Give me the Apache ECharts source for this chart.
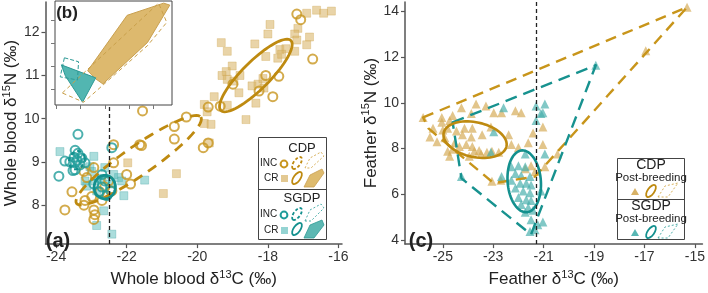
<!DOCTYPE html>
<html>
<head>
<meta charset="utf-8">
<script src="https://cdn.jsdelivr.net/npm/echarts@6/dist/echarts.min.js"></script>
<style>
html,body{margin:0;padding:0;background:#fff;}
#main{width:708px;height:293px;}
</style>
</head>
<body>
<div id="main"></div>
<script>
// ---- data ----
// (a) whole blood
var xTicksA = [-24, -22, -20, -18, -16];
var yTicksA = [8, 9, 10, 11, 12];
var cdpCR = [[-16.90,12.44],[-16.62,12.51],[-16.42,12.44],[-16.20,12.49],[-17.94,12.18],[-17.15,12.09],[-17.24,11.96],[-18.0,11.96],
  [-17.18,11.82],[-16.82,11.89],[-16.90,11.71],[-18.37,11.73],[-17.24,11.56],[-17.66,11.60],[-17.49,11.62],[-18.06,11.44],
  [-17.72,11.40],[-17.61,11.49],[-19.32,11.76],[-19.15,11.56],[-19.01,11.22],[-19.18,11.09],[-19.30,11.0],[-18.79,11.0],
  [-19.15,10.91],[-18.96,10.87],[-18.45,10.76],[-18.28,10.80],[-18.11,10.71],[-18.14,10.93],[-18.82,10.60],[-18.34,10.36],
  [-19.15,10.31],[-18.62,9.98],[-19.52,10.51],[-19.80,10.33],[-19.72,10.16],[-19.80,9.89],[-19.61,9.87],[-19.66,9.44],
  [-20.59,8.73],[-21.97,8.98],[-20.96,8.27]];
var cdpINC = [[-17.18,12.42],[-17.07,12.29],[-16.73,11.38],[-17.69,10.98],[-18.06,11.0],[-18.25,10.64],[-17.86,10.51],
  [-18.99,10.80],[-19.35,10.29],[-19.69,10.27],[-19.69,9.44],[-19.83,9.33],[-21.55,10.18],[-20.65,9.82],[-20.65,9.53],
  [-20.31,10.04],[-21.58,9.38],[-22.37,8.98],[-22.0,8.71],[-22.37,9.40],[-21.63,9.40],[-21.89,8.49],[-23.55,8.31],
  [-23.75,7.89],[-22.93,7.89],[-22.93,7.67],[-23.18,8.11],[-22.70,8.11],[-22.62,8.42],[-22.76,8.31],[-22.51,8.56],
  [-23.13,8.64],[-23.21,8.78],[-22.93,8.87],[-22.42,8.33],[-22.99,8.20],[-23.21,8.0],[-22.90,7.78]];
var sgdpINC = [[-23.38,9.64],[-22.42,9.33],[-23.46,9.27],[-23.38,9.2],[-23.27,9.09],[-23.49,9.11],[-23.75,9.02],[-23.61,9.0],
  [-23.46,8.98],[-23.32,8.93],[-23.18,8.98],[-23.46,8.82],[-23.52,8.8],[-23.92,8.67],[-23.41,9.04],[-22.70,8.42],
  [-22.62,8.56],[-22.79,8.31],[-22.56,8.22],[-22.45,8.33],[-22.93,8.49],[-22.70,8.71]];
var sgdpCR = [[-23.89,9.24],[-22.93,9.13],[-23.04,8.89],[-22.62,8.87],[-23.18,8.56],[-23.13,8.44],[-22.85,8.33],[-22.23,8.64],
  [-22.14,8.56],[-22.08,8.22],[-22.65,7.87],[-22.85,7.53],[-22.42,7.33],[-22.99,8.78],[-22.90,8.56],[-21.49,8.58],
  [-22.70,8.62],[-22.48,8.49],[-22.37,8.71]];
// ellipses: centre x, centre y, half axis a (dx,dy), half axis b (dx,dy)
var ellCdpCR = [-18.34, 11.0, 0.99, 0.81, 0.28, -0.22];
var ellCdpINC = [-21.66, 9.04, 1.76, 1.0, 0.245, -0.27];
var ellSgdpCR = [-22.62, 8.42, 0.30, 0.03, -0.03, 0.27];
var ellSgdpINC = [-23.41, 9.04, 0.22, 0.06, -0.03, 0.20];
var refA = -22.5;

// (b) inset hulls
var insetX = [-24, -22, -20, -18, -16];
var insetY = [7.9, 9.3, 10.7, 12.1];
var hullCdpCR = [[-21.42,9.03],[-18.18,12.40],[-15.18,13.14],[-14.68,13.02],[-16.51,10.75],[-20.17,8.23],[-20.76,8.54]];
var hullCdpINC = [[-23.50,7.68],[-15.60,13.14],[-14.93,11.97],[-16.51,10.56],[-21.75,7.12]];
var hullSgdpCR = [[-23.58,9.39],[-20.76,8.60],[-21.84,7.12],[-23.25,8.72]];
var hullSgdpINC = [[-23.33,9.82],[-22.17,9.58],[-22.25,8.47],[-23.67,8.66]];
var refB = -22;

// (c) feathers
var xTicksC = [-25, -23, -21, -19, -17, -15];
var yTicksC = [4, 6, 8, 10, 12, 14];
var cdpPB = [[-25.78,9.36],[-25.04,9.36],[-24.73,9.23],[-24.26,9.78],[-23.68,9.95],[-23.29,9.86],[-23.87,9.53],[-22.98,9.57],
  [-22.67,9.57],[-22.12,9.65],[-21.89,9.57],[-25.39,8.89],[-25.51,8.51],[-25.0,8.81],[-24.92,8.47],[-24.14,8.89],
  [-23.83,8.89],[-23.44,8.60],[-24.22,8.60],[-24.61,9.44],[-25.04,9.15],[-24.81,8.89],[-24.46,8.77],[-23.09,8.94],
  [-23.87,8.51],[-24.53,8.26],[-24.07,8.18],[-23.83,8.09],[-24.34,8.09],[-23.75,7.88],[-23.48,7.76],[-23.25,7.84],
  [-24.81,7.88],[-24.73,7.67],[-23.95,7.67],[-23.05,6.57],[-22.70,6.62],[-25.23,8.30],[-24.61,7.97],[-23.56,7.92],
  [-23.05,7.88],[-22.78,7.84],[-21.73,7.12],[-21.50,7.25],[-21.34,7.0],[-21.61,8.26],[-22.0,8.05],[-22.28,8.18],
  [-21.03,8.18],[-20.95,7.21],[-21.03,8.94],[-20.45,7.76],[-16.95,12.27],[-15.31,14.17],[-21.42,8.68],[-22.39,8.60]];
var sgdpPB = [[-22.59,9.78],[-22.98,8.73],[-21.30,9.86],[-20.95,9.95],[-21.11,9.53],[-21.30,9.23],[-21.03,9.57],[-18.93,11.64],
  [-23.09,7.84],[-22.28,7.21],[-22.0,7.25],[-21.73,7.21],[-22.12,6.91],[-21.89,6.83],[-21.54,6.78],[-22.28,6.62],
  [-21.93,6.49],[-21.69,6.49],[-21.50,6.41],[-22.12,6.28],[-21.81,6.15],[-21.54,6.07],[-22.0,5.86],[-21.69,5.77],
  [-21.50,5.73],[-21.89,5.56],[-21.61,5.43],[-21.42,5.31],[-21.73,5.22],[-21.50,4.89],[-21.54,4.38],[-24.26,6.78],
  [-22.67,6.78],[-21.34,4.46],[-21.23,4.68],[-21.11,6.15],[-21.03,4.80],[-20.95,7.76],[-21.73,7.76]];
var hullCdpPB = [[-25.78,9.36],[-15.31,14.17],[-21.34,6.78],[-22.98,6.49],[-25.58,8.89]];
var hullSgdpPB = [[-24.61,9.15],[-18.93,11.64],[-21.50,4.25],[-24.26,6.70]];
var ellCdpPB = [-23.72, 8.39, 1.245, -0.30, 0.15, 0.74];
var ellSgdpPB = [-21.77, 6.57, -0.08, 1.35, 0.66, 0.02];
var refC = -21.3;

// ---- styles ----
var FONT = 'Liberation Sans, Arial, sans-serif';
var goldLine = '#BE8A10';
var goldCircle = '#C8961F';
var goldFill = 'rgba(216,180,104,0.72)';
var tealLine = '#13908E';
var tealCircle = '#1F9C9A';
var tealFill = 'rgba(84,186,184,0.62)';

function scat(data, xi, symbol, size, itemStyle, z) {
	return {
		type : 'scatter', xAxisIndex : xi, yAxisIndex : xi, data : data,
		symbol : symbol, symbolSize : size, itemStyle : itemStyle, z : z,
		silent : true, animation : false
	};
}
function ellipse(e, xi, color, width, dash, z) {
	return {
		type : 'custom', xAxisIndex : xi, yAxisIndex : xi, data : [[e[0], e[1]]],
		z : z, silent : true, animation : false,
		renderItem : function(params, api) {
			var pts = [];
			for (var i = 0; i < 72; i++) {
				var t = i / 72 * Math.PI * 2;
				pts.push(api.coord([e[0] + e[2] * Math.cos(t) + e[4] * Math.sin(t),
						e[1] + e[3] * Math.cos(t) + e[5] * Math.sin(t)]));
			}
			return {
				type : 'polygon', shape : { points : pts },
				style : { fill : 'none', stroke : color, lineWidth : width, lineDash : dash }
			};
		}
	};
}
function hull(h, xi, fill, stroke, width, dash, z) {
	return {
		type : 'custom', xAxisIndex : xi, yAxisIndex : xi, data : h,
		z : z, silent : true, animation : false,
		renderItem : function(params, api) {
			if (params.dataIndex != 0) return;
			var pts = h.map(function(p) { return api.coord(p); });
			return {
				type : 'polygon', shape : { points : pts },
				style : { fill : fill, stroke : stroke, lineWidth : width, lineDash : dash, lineJoin : 'round' }
			};
		}
	};
}
function refLine(v, xi, type, color, z) {
	return {
		type : 'line', xAxisIndex : xi, yAxisIndex : xi, data : [], z : z, silent : true,
		markLine : {
			silent : true, symbol : 'none', label : { show : false }, animation : false,
			lineStyle : { type : type, color : color, width : 1.3 },
			data : [ { xAxis : v } ]
		}
	};
}
function axis(grid, min, max, ticks, name, gap, extra) {
	var a = {
		gridIndex : grid, type : 'value', min : min, max : max,
		splitLine : { show : false },
		axisLine : { show : true, onZero : false, lineStyle : { color : '#555', width : 1.5 } },
		axisTick : { show : true, customValues : ticks, length : 4, lineStyle : { color : '#555', width : 1.2 } },
		axisLabel : { customValues : ticks, color : '#333', fontSize : 14, fontFamily : FONT, margin : 6 },
		name : name, nameLocation : 'middle', nameGap : gap,
		nameTextStyle : {
			color : '#222',
			rich : {
				t : { fontSize : 17, fontFamily : FONT, color : '#222' },
				s : { fontSize : 11, fontFamily : FONT, color : '#222', padding : [0, 0, 10, 0] }
			}
		}
	};
	for (var k in extra) a[k] = extra[k];
	return a;
}

var insetAxisX = {
	gridIndex : 2, type : 'value', min : -24.1, max : -14.5, z : 11,
	splitLine : { show : false }, axisLine : { show : false },
	axisTick : { show : true, customValues : insetX, length : 4, lineStyle : { color : '#777' } },
	axisLabel : { show : false }
};
var insetAxisY = {
	gridIndex : 2, type : 'value', min : 6.95, max : 13.27, z : 11,
	splitLine : { show : false }, axisLine : { show : false },
	axisTick : { show : true, customValues : insetY, length : 4, lineStyle : { color : '#777' } },
	axisLabel : { show : false }
};

// legend graphics
function txt(x, y, s, size, align, weight) {
	return { type : 'text', x : x, y : y, z : 50,
		style : { text : s, fill : '#222', font : (weight || 'normal') + ' ' + size + 'px ' + FONT,
			align : align || 'center', verticalAlign : 'middle' } };
}
function ell(x, y, rx, ry, rot, color, width, dash) {
	return { type : 'ellipse', x : x, y : y, rotation : rot, z : 50,
		shape : { cx : 0, cy : 0, rx : rx, ry : ry },
		style : { fill : 'none', stroke : color, lineWidth : width, lineDash : dash } };
}
function poly(pts, fill, stroke, width, dash) {
	return { type : 'polygon', z : 50, shape : { points : pts },
		style : { fill : fill, stroke : stroke, lineWidth : width, lineDash : dash } };
}
var graphics = [
	txt(58, 241, '(a)', 20, 'center', 'bold'),
	txt(67, 13, '(b)', 17, 'center', 'bold'),
	txt(421, 241, '(c)', 20, 'center', 'bold'),
	// legend (a)
	{ type : 'rect', z : 49, shape : { x : 258.5, y : 137.5, width : 68, height : 102 }, style : { fill : '#fff', stroke : '#444', lineWidth : 1 } },
	{ type : 'line', z : 50, shape : { x1 : 258.5, y1 : 189.5, x2 : 326.5, y2 : 189.5 }, style : { stroke : '#444', lineWidth : 1 } },
	txt(302, 148, 'CDP', 13),
	txt(260, 163, 'INC', 10, 'left'),
	txt(264, 178, 'CR', 10, 'left'),
	{ type : 'circle', z : 50, shape : { cx : 284, cy : 164, r : 3.4 }, style : { fill : 'none', stroke : goldCircle, lineWidth : 2 } },
	ell(297, 163, 7, 3.3, 0.95, goldLine, 1.8, [3, 2]),
	poly([[305,168],[310,158],[321,152],[324,156],[311,168]], 'none', '#D2A84A', 0.9, [2, 2]),
	{ type : 'rect', z : 50, shape : { x : 281, y : 175, width : 7, height : 7 }, style : { fill : goldFill } },
	ell(297, 178, 7, 3.3, 0.95, goldLine, 1.8, null),
	poly([[304,187],[310,175],[322,169],[324,173],[314,187]], 'rgba(222,187,110,1)', '#C9A050', 0.8, null),
	txt(302, 198, 'SGDP', 13),
	txt(260, 214, 'INC', 10, 'left'),
	txt(264, 230, 'CR', 10, 'left'),
	{ type : 'circle', z : 50, shape : { cx : 284, cy : 215, r : 3.4 }, style : { fill : 'none', stroke : tealCircle, lineWidth : 2 } },
	ell(297, 214, 7, 3.3, 0.95, tealLine, 1.8, [3, 2]),
	poly([[305,221],[310,210],[321,204],[324,208],[311,221]], 'none', '#3AA6A2', 0.9, [2, 2]),
	{ type : 'rect', z : 50, shape : { x : 281, y : 227, width : 7, height : 7 }, style : { fill : tealFill } },
	ell(297, 229, 7, 3.3, 0.95, tealLine, 1.8, null),
	poly([[304,238],[310,225],[322,220],[324,225],[314,238]], '#5DB8B3', '#2E9A96', 0.8, null),
	// legend (c)
	{ type : 'rect', z : 49, shape : { x : 617.5, y : 158.5, width : 67, height : 81 }, style : { fill : '#fff', stroke : '#444', lineWidth : 1 } },
	{ type : 'line', z : 50, shape : { x1 : 617.5, y1 : 199.5, x2 : 684.5, y2 : 199.5 }, style : { stroke : '#444', lineWidth : 1 } },
	txt(651, 165, 'CDP', 14),
	txt(651, 178, 'Post-breeding', 11.5),
	{ type : 'polygon', z : 50, shape : { points : [[631,195],[639,195],[635,188]] }, style : { fill : 'rgba(212,170,85,0.9)' } },
	ell(651, 191, 7, 3.3, 0.95, goldLine, 1.8, null),
	poly([[658,197],[665,186],[678,183],[668,197]], 'none', '#D2A84A', 0.9, [2, 2]),
	txt(651, 206, 'SGDP', 14),
	txt(651, 219, 'Post-breeding', 11.5),
	{ type : 'polygon', z : 50, shape : { points : [[631,236],[639,236],[635,229]] }, style : { fill : 'rgba(70,175,172,0.9)' } },
	ell(651, 232, 7, 3.3, 0.95, tealLine, 1.8, null),
	poly([[658,238],[665,227],[678,224],[668,238]], 'none', '#3AA6A2', 0.9, [2, 2])
];

var chart = echarts.init(document.getElementById('main'), null, { renderer : 'canvas' });
var option = {
	animation : false,
	backgroundColor : '#fff',
	textStyle : { fontFamily : FONT },
	grid : [
		{ left : 43, top : 2, width : 299, height : 251 },
		{ left : 405, top : 2, width : 303, height : 251 },
		{ left : 55, top : 1, width : 117, height : 104, show : true, z : 10, backgroundColor : '#fff', borderColor : '#444', borderWidth : 1 }
	],
	xAxis : [
		axis(0, -24.3, -15.9, xTicksA, '{t|Whole blood δ}{s|13}{t|C (‰)}', 20, {}),
		axis(1, -26.5, -14.7, xTicksC, '{t|Feather δ}{s|13}{t|C (‰)}', 20, {}),
		insetAxisX
	],
	yAxis : [
		axis(0, 7.1, 12.7, yTicksA, '{t|Whole blood δ}{s|15}{t|N (‰)}', 22, {}),
		axis(1, 3.83, 14.4, yTicksC, '{t|Feather δ}{s|15}{t|N (‰)}', 22, {}),
		insetAxisY
	],
	graphic : graphics,
	series : [
		refLine(refA, 0, [4, 3], '#222', 1),
		scat(cdpCR, 0, 'rect', 8, { color : goldFill, borderColor : 'rgba(200,160,70,0.5)', borderWidth : 0.8 }, 2),
		scat(sgdpCR, 0, 'rect', 8, { color : tealFill, borderColor : 'rgba(60,160,160,0.5)', borderWidth : 0.8 }, 2),
		scat(cdpINC, 0, 'circle', 9, { color : 'rgba(0,0,0,0)', borderColor : goldCircle, borderWidth : 2 }, 3),
		scat(sgdpINC, 0, 'circle', 9, { color : 'rgba(0,0,0,0)', borderColor : tealCircle, borderWidth : 2 }, 3),
		ellipse(ellCdpINC, 0, goldLine, 2.8, [10, 7], 4),
		ellipse(ellCdpCR, 0, goldLine, 2.8, null, 4),
		ellipse(ellSgdpINC, 0, tealLine, 2.2, [4, 3], 4),
		ellipse(ellSgdpCR, 0, tealLine, 2.8, null, 4),

		refLine(refC, 1, [4, 3], '#222', 1),
		scat(cdpPB, 1, 'triangle', 9, { color : 'rgba(212,170,85,0.85)' }, 2),
		scat(sgdpPB, 1, 'triangle', 9, { color : 'rgba(70,175,172,0.85)' }, 2),
		hull(hullCdpPB, 1, 'none', '#C8951A', 2.4, [11, 7], 3),
		hull(hullSgdpPB, 1, 'none', '#17928F', 2.4, [12, 7], 3),
		ellipse(ellCdpPB, 1, goldLine, 2.6, null, 4),
		ellipse(ellSgdpPB, 1, tealLine, 2.6, null, 4),

		refLine(refB, 2, [2, 2], '#999', 11),
		hull(hullCdpCR, 2, '#DDB96E', '#C9A050', 1, null, 12),
		hull(hullSgdpCR, 2, '#52B6B1', '#2E9A96', 1, null, 12),
		hull(hullCdpINC, 2, 'none', '#C9A04A', 1, [4, 3], 13),
		hull(hullSgdpINC, 2, 'none', '#2E9A96', 1, [4, 2], 13)
	]
};
chart.setOption(option);
</script>
</body>
</html>
